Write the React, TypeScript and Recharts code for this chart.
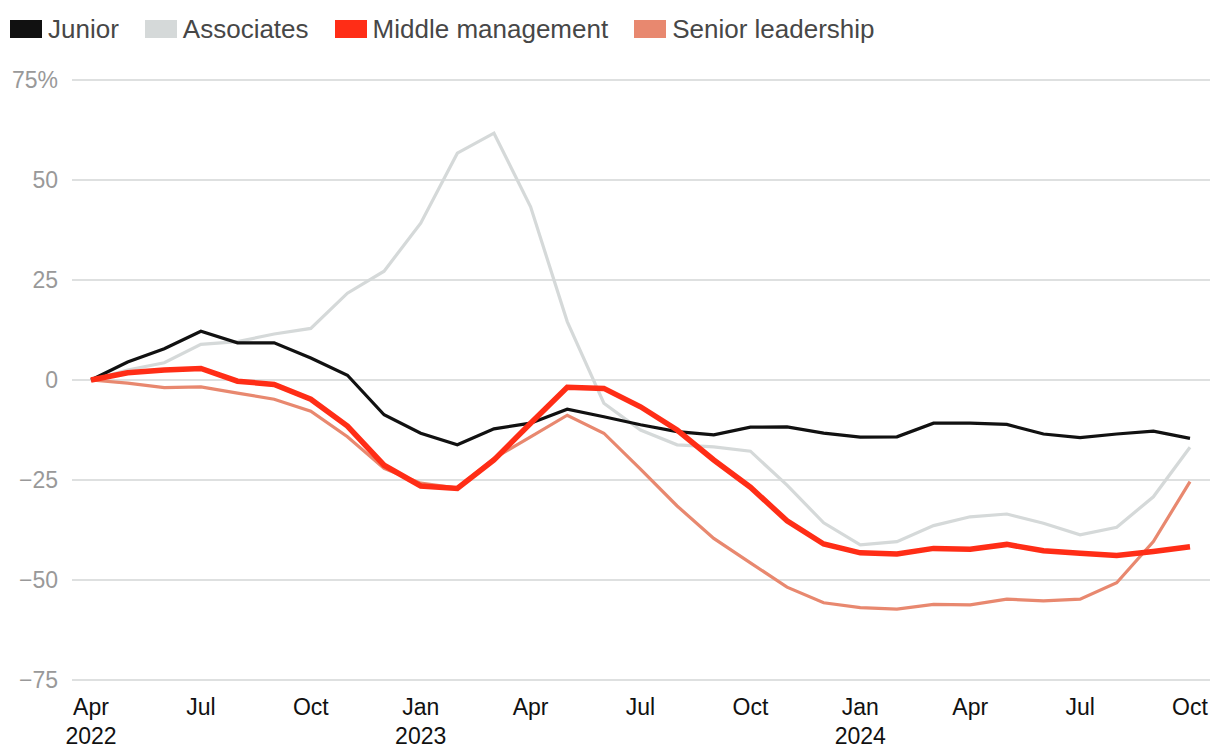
import {CartesianGrid, Legend, Line, LineChart, XAxis, YAxis} from 'recharts';

const months = [
  'Apr 2022', 'May 2022', 'Jun 2022', 'Jul 2022', 'Aug 2022', 'Sep 2022', 'Oct 2022', 'Nov 2022', 'Dec 2022',
  'Jan 2023', 'Feb 2023', 'Mar 2023', 'Apr 2023', 'May 2023', 'Jun 2023', 'Jul 2023', 'Aug 2023', 'Sep 2023',
  'Oct 2023', 'Nov 2023', 'Dec 2023', 'Jan 2024', 'Feb 2024', 'Mar 2024', 'Apr 2024', 'May 2024', 'Jun 2024',
  'Jul 2024', 'Aug 2024', 'Sep 2024', 'Oct 2024',
];

const junior = [
  0, 4.5, 7.8, 12.2, 9.3, 9.3, 5.5, 1.2, -8.7, -13.3, -16.2, -12.2, -10.8, -7.3, -9.2, -11.2,
  -12.9, -13.7, -11.8, -11.7, -13.3, -14.3, -14.2, -10.8, -10.8, -11.1, -13.5, -14.4, -13.5, -12.8, -14.6,
];

const associates = [
  0, 2.5, 4.3, 8.9, 9.6, 11.5, 12.9, 21.7, 27.2, 39.2, 56.7, 61.7, 43.3, 14.6, -5.8, -12.5,
  -16.2, -16.7, -17.8, -26.3, -35.7, -41.2, -40.4, -36.4, -34.2, -33.5, -35.8, -38.7, -36.8, -29.2, -16.8,
];

const middle = [
  0, 1.8, 2.5, 2.9, -0.3, -1.1, -4.8, -11.5, -21.3, -26.5, -27.1, -20, -10.8, -1.8, -2.1, -6.7,
  -12.5, -20, -26.8, -35.2, -41, -43.2, -43.5, -42.1, -42.3, -41.1, -42.7, -43.3, -43.9, -42.9, -41.7,
];

const senior = [
  0, -0.8, -1.9, -1.7, -3.3, -4.8, -7.8, -14.2, -22.1, -25.8, -27, -19.6, -14.2, -8.8, -13.3, -22.3,
  -31.5, -39.6, -45.7, -51.8, -55.7, -56.9, -57.3, -56.1, -56.2, -54.8, -55.2, -54.8, -50.7, -40.4, -25.4,
];

const xTicks = [
  'Apr 2022', 'Jul 2022', 'Oct 2022', 'Jan 2023', 'Apr 2023', 'Jul 2023', 'Oct 2023',
  'Jan 2024', 'Apr 2024', 'Jul 2024', 'Oct 2024',
];
const yearTicks = ['Apr 2022', 'Jan 2023', 'Jan 2024'];
const yTicks = [-75, -50, -25, 0, 25, 50, 75];

const series = [
  {key: 'associates', name: 'Associates', color: '#d5d9d9', width: 3.2},
  {key: 'senior', name: 'Senior leadership', color: '#e8886f', width: 3.2},
  {key: 'junior', name: 'Junior', color: '#111111', width: 3.2},
  {key: 'middle', name: 'Middle management', color: '#ff2d16', width: 5.5},
];
const legendOrder = ['junior', 'associates', 'middle', 'senior'];

const data = months.map((month, i) => ({
  month,
  junior: junior[i],
  associates: associates[i],
  middle: middle[i],
  senior: senior[i],
}));

const FONT = '"Liberation Sans", Arial, Helvetica, sans-serif';

function XTick({x, y, payload}: any) {
  const [m, yr] = String(payload.value).split(' ');
  return (
    <text x={x} y={y} textAnchor="middle" fill="#111" fontSize={23} fontFamily={FONT}>
      <tspan x={x} dy={27}>{m}</tspan>
      {yearTicks.includes(payload.value) && <tspan x={x} dy={29}>{yr}</tspan>}
    </text>
  );
}

function YTick({x, y, payload}: any) {
  const v = payload.value as number;
  const label = v === 75 ? '75%' : v < 0 ? `\u2212${Math.abs(v)}` : `${v}`;
  return (
    <text x={x - 6} y={y} dy="0.36em" textAnchor="end" fill="#999" fontSize={23} fontFamily={FONT}>
      {label}
    </text>
  );
}

function LegendContent() {
  return (
    <div style={{display: 'flex', alignItems: 'center', height: 58, paddingLeft: 10, fontFamily: FONT}}>
      {legendOrder.map((k) => {
        const s = series.find((d) => d.key === k)!;
        return (
          <div key={k} style={{display: 'flex', alignItems: 'center', marginRight: 26}}>
            <span style={{width: 32, height: 18, background: s.color, display: 'inline-block', marginRight: 6}} />
            <span style={{fontSize: 26, color: '#474747'}}>{s.name}</span>
          </div>
        );
      })}
    </div>
  );
}

export default function App() {
  return (
    <div style={{position: 'absolute', left: 0, top: 0, background: '#fff', fontFamily: FONT}}>
      <LineChart width={1220} height={756} data={data} margin={{top: 22, right: 10, bottom: 0, left: 0}}>
        <Legend
          verticalAlign="top"
          align="left"
          content={<LegendContent />}
          wrapperStyle={{top: 0, left: 0, height: 58, width: 1220}}
        />
        <CartesianGrid vertical={false} stroke="#d3d6d6" strokeWidth={1.5} />
        <XAxis
          dataKey="month"
          ticks={xTicks}
          interval={0}
          tick={<XTick />}
          tickLine={false}
          axisLine={false}
          height={76}
          padding={{left: 19, right: 20}}
        />
        <YAxis
          domain={[-75, 75]}
          ticks={yTicks}
          tick={<YTick />}
          tickLine={false}
          axisLine={false}
          width={72}
          interval={0}
        />
        {series.map((s) => (
          <Line
            key={s.key}
            type="linear"
            dataKey={s.key}
            name={s.name}
            stroke={s.color}
            strokeWidth={s.width}
            dot={false}
            activeDot={false}
            isAnimationActive={false}
          />
        ))}
      </LineChart>
    </div>
  );
}
